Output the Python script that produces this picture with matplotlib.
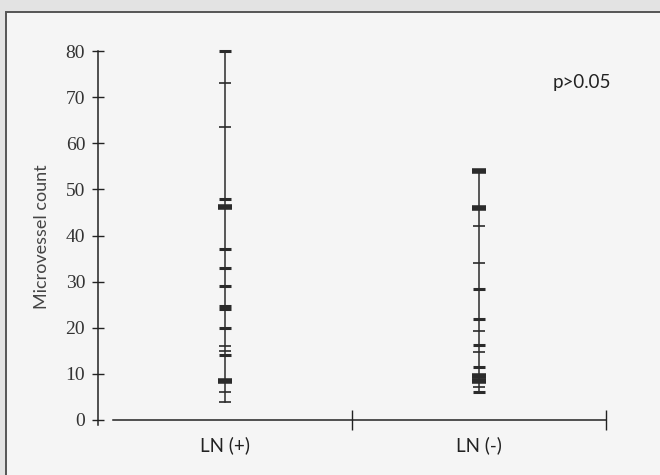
import matplotlib
matplotlib.use('Agg')
import matplotlib.pyplot as plt
from matplotlib.patches import Rectangle

# data
groups = ['LN (+)', 'LN (-)']
ln_pos = [80, 73, 63.5, 48, 46.2, 37, 33, 29, 24.7, 24, 20, 16, 15, 14, 8.5, 6, 4]
ln_pos_w = [2, 1, 1, 2, 3, 2, 2, 2, 2, 2, 2, 1, 1, 2, 3, 1, 1]
ln_neg = [54, 46, 42, 34, 28.5, 22, 19.2, 16.2, 14.7, 11.5, 9.5, 8.5, 7.2, 6]
ln_neg_w = [3, 3, 1, 1, 2, 2, 1, 2, 1, 2, 3, 3, 1, 2]
y_ticks = list(range(0, 90, 10))
p_text = 'p>0.05'

mark_color = '#2b2b2b'
mark_ms = {1: 8.0, 2: 8.5, 3: 9.5}
mark_mew = {1: 1.2, 2: 2.2, 3: 4.0}

fig = plt.figure(figsize=(6.6, 4.75), dpi=100)
fig.patch.set_facecolor('#e3e3e3')
# page frame of the scan
fig.add_artist(Rectangle((6.5 / 660, -0.1), 1.0, 1 - 12 / 475 + 0.1,
                         transform=fig.transFigure, facecolor='#f5f5f5',
                         edgecolor='#555555', lw=1.4, zorder=-10))

ax = fig.add_axes([98 / 660, 1 - 420 / 475, (606 - 98) / 660, (420 - 51) / 475])
ax.set_facecolor('none')
ax.set_xlim(0, 2)
ax.set_ylim(0, 80)

for i, (vals, ws) in enumerate([(ln_pos, ln_pos_w), (ln_neg, ln_neg_w)]):
    x = i + 0.5
    ax.plot([x, x], [min(vals), max(vals)], color=mark_color, lw=1.1, clip_on=False)
    for v, w in zip(vals, ws):
        ax.plot(x, v, marker='_', linestyle='none', ms=mark_ms[w], mew=mark_mew[w],
                color=mark_color, clip_on=False)

# axes
for s in ['top', 'right']:
    ax.spines[s].set_visible(False)
ax.spines['left'].set_bounds(-1, 80)
ax.spines['bottom'].set_bounds(0.06, 2)
for s in ['left', 'bottom']:
    ax.spines[s].set_color('#222222')
    ax.spines[s].set_linewidth(1.1)

ax.set_yticks(y_ticks)
ax.set_yticklabels([str(t) for t in y_ticks], family='Liberation Serif',
                   fontsize=14, color='#333333')
ax.tick_params(axis='y', direction='inout', length=8.5, width=1.0, pad=5, color='#222222')

ax.set_xticks([0.5, 1.5])
ax.set_xticklabels(groups, family='Lato', fontsize=13.5, color='#222222')
ax.tick_params(axis='x', which='major', length=0, pad=12)
ax.set_xticks([1, 2], minor=True)
ax.tick_params(axis='x', which='minor', direction='inout', length=14, width=1.0, color='#222222')

fig.text(42 / 660, 1 - 237 / 475, 'Microvessel count', rotation=90, ha='center',
         va='center', family='Lato', fontsize=13, color='#444444')
fig.text(553 / 660, 1 - 88 / 475, p_text, ha='left', va='baseline',
         family='Lato', fontsize=13.5, color='#222222')

fig.savefig('out.png', dpi=100, facecolor=fig.get_facecolor())
